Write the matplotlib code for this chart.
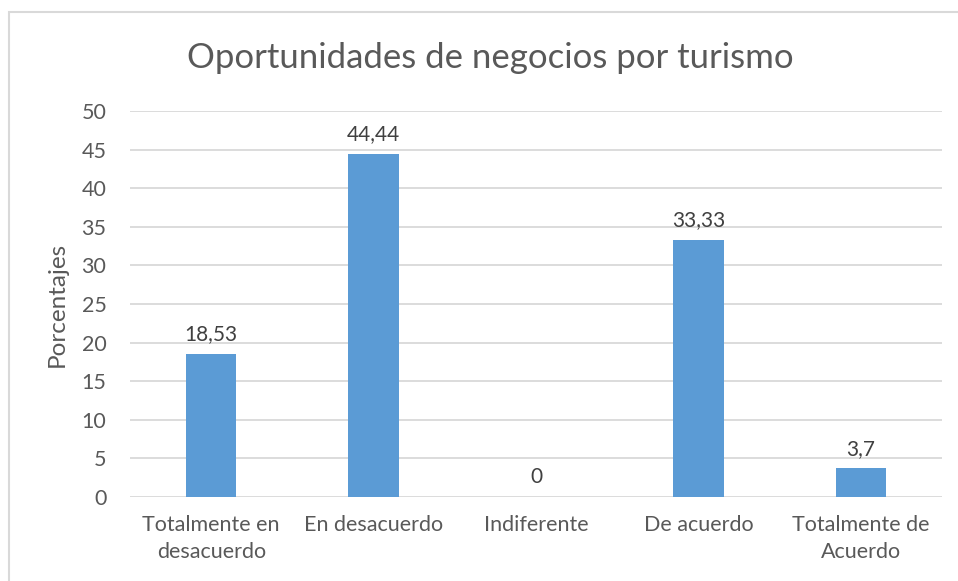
import matplotlib
matplotlib.use("Agg")
import matplotlib.pyplot as plt
from matplotlib.patches import Rectangle

# ── data ────────────────────────────────────────────────────────────────
categories = ["Totalmente en\ndesacuerdo", "En desacuerdo", "Indiferente",
              "De acuerdo", "Totalmente de\nAcuerdo"]
values = [18.53, 44.44, 0, 33.33, 3.7]
labels = ["18,53", "44,44", "0", "33,33", "3,7"]
yticks = [0, 5, 10, 15, 20, 25, 30, 35, 40, 45, 50]

TEXT = "#595959"
BAR = "#5B9BD5"
GRID = "#D9D9D9"

plt.rcParams["font.family"] = ["Lato", "DejaVu Sans"]

fig = plt.figure(figsize=(9.58, 5.81), dpi=100)
ax = fig.add_axes([130 / 958, 1 - 497 / 581, 812 / 958, 386 / 581])

x = range(len(categories))
ax.bar(x, values, width=0.31, color=BAR, zorder=3)
for i, (v, lab) in enumerate(zip(values, labels)):
    ax.annotate(lab, (i, v), xytext=(0, 7), textcoords="offset points",
                ha="center", va="bottom", fontsize=15, color="#404040")

ax.set_xlim(-0.5, len(categories) - 0.5)
ax.set_ylim(0, 50)
ax.set_yticks(yticks)
ax.set_xticks(list(x))
ax.set_xticklabels(categories, fontsize=15.5, color=TEXT, linespacing=1.45)
ax.tick_params(axis="y", labelsize=15.5, labelcolor=TEXT, length=0, pad=17)
ax.tick_params(axis="x", length=0, pad=13)
ax.yaxis.grid(True, color=GRID, linewidth=1.3, zorder=0)
for s in ax.spines.values():
    s.set_visible(False)
ax.set_ylabel("Porcentajes", fontsize=17.5, color=TEXT, labelpad=10)

fig.text(490 / 958, 1 - 58 / 581, "Oportunidades de negocios por turismo",
         ha="center", va="center", fontsize=25, color=TEXT)

# chart-area border (right/bottom edges fall outside the crop)
fig.patches.append(Rectangle((9 / 958, -0.1), 1.0, 1 - 12 / 581 + 0.1,
                             transform=fig.transFigure, fill=False,
                             edgecolor=GRID, linewidth=1.5))

fig.savefig("out.png", dpi=100)
